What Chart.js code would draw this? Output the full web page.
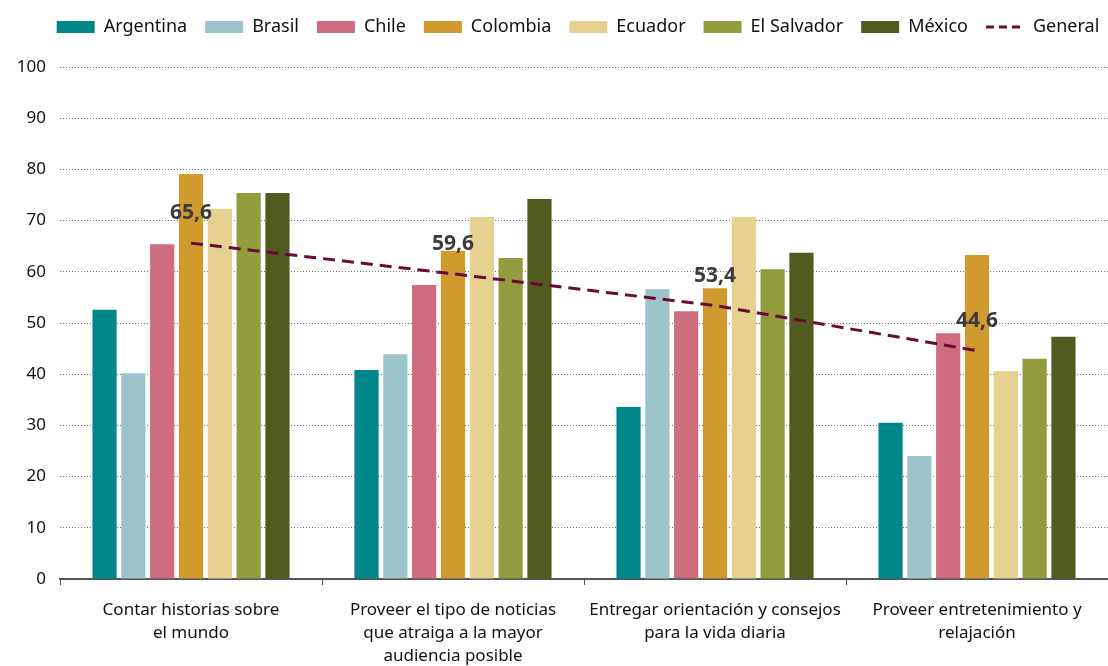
<!DOCTYPE html>
<html>
<head>
<meta charset="utf-8">
<script src="https://cdn.jsdelivr.net/npm/chart.js@4"></script>
<style>
  html, body { margin: 0; padding: 0; background: #fff; }
  #wrap { width: 1108px; height: 666px; }
</style>
</head>
<body>
<div id="wrap"><canvas id="myBarChart"></canvas></div>
<script>
// categories and values
var categories = [
    ["Contar historias sobre", "el mundo"],
    ["Proveer el tipo de noticias", "que atraiga a la mayor", "audiencia posible"],
    ["Entregar orientación y consejos", "para la vida diaria"],
    ["Proveer entretenimiento y", "relajación"]
];

var argentina = [52.6, 40.8, 33.6, 30.5];
var brasil = [40.2, 43.9, 56.6, 24.0];
var chile = [65.4, 57.4, 52.3, 48.0];
var colombia = [79.1, 64.1, 56.8, 63.3];
var ecuador = [72.3, 70.7, 70.7, 40.6];
var elSalvador = [75.4, 62.7, 60.5, 43.0];
var mexico = [75.4, 74.2, 63.7, 47.3];
var general = [65.6, 59.6, 53.4, 44.6];

var yTicks = [0, 10, 20, 30, 40, 50, 60, 70, 80, 90, 100];

const fontFamily = "'Noto Sans', sans-serif";

function bar(label, values, color) {
    return {
        type: 'bar',
        label: label,
        data: values,
        backgroundColor: color,
        borderWidth: 0,
        pointStyle: 'rect',
        order: 1
    };
}

const data = {
    labels: categories,
    datasets: [
        bar('Argentina', argentina, '#00878A'),
        bar('Brasil', brasil, '#9CC5C9'),
        bar('Chile', chile, '#CE6C80'),
        bar('Colombia', colombia, '#D09A2E'),
        bar('Ecuador', ecuador, '#E6D190'),
        bar('El Salvador', elSalvador, '#939B3F'),
        bar('México', mexico, '#525B1F'),
        {
            type: 'line',
            label: 'General',
            data: general,
            borderColor: '#6B0A3A',
            backgroundColor: '#6B0A3A',
            borderWidth: 3,
            borderDash: [12, 7],
            pointRadius: 0,
            pointStyle: 'line',
            fill: false,
            tension: 0,
            order: 0
        }
    ]
};

// draws the "65,6" style labels over the General line
const lineLabels = {
    id: 'lineLabels',
    afterDatasetsDraw(chart) {
        const ctx = chart.ctx;
        const idx = chart.data.datasets.length - 1;
        const meta = chart.getDatasetMeta(idx);
        ctx.save();
        ctx.font = "bold 21px " + fontFamily;
        ctx.fillStyle = '#3C3C3C';
        ctx.textAlign = 'center';
        ctx.textBaseline = 'middle';
        meta.data.forEach(function (pt, i) {
            var txt = general[i].toFixed(1).replace('.', ',');
            ctx.fillText(txt, pt.x, pt.y - 30);
        });
        ctx.restore();
    }
};

// extra room under the legend, and nudge it right like the original
const legendSpace = {
    id: 'legendSpace',
    beforeInit(chart) {
        const orig = chart.legend.fit;
        chart.legend.fit = function () {
            orig.bind(chart.legend)();
            this.height += 21;
        };
    },
    afterLayout(chart) {
        chart.legend.left += 24;
        chart.legend.right += 24;
    }
};

const config = {
    type: 'bar',
    data: data,
    plugins: [lineLabels, legendSpace],
    options: {
        responsive: true,
        maintainAspectRatio: false,
        animation: false,
        layout: { padding: 0 },
        datasets: {
            bar: { categoryPercentage: 0.77, barPercentage: 0.84 }
        },
        plugins: {
            legend: {
                display: true,
                position: 'top',
                labels: {
                    usePointStyle: true,
                    pointStyleWidth: 38,
                    boxHeight: 12,
                    padding: 18,
                    color: '#111',
                    font: { family: fontFamily, size: 18 },
                    generateLabels: function (chart) {
                        var items = Chart.defaults.plugins.legend.labels.generateLabels(chart);
                        items.forEach(function (it) {
                            if (it.pointStyle === 'line') it.lineDash = [8, 5];
                        });
                        return items;
                    },
                    sort: function (a, b) { return a.datasetIndex - b.datasetIndex; }
                }
            },
            tooltip: { enabled: false }
        },
        scales: {
            x: {
                offset: true,
                afterFit: function (s) { s.height = 87; },
                grid: { display: true, drawOnChartArea: false, drawTicks: true, tickLength: 6, color: '#555' },
                border: { display: true, color: '#555', width: 2 },
                ticks: {
                    color: '#111',
                    padding: 13,
                    maxRotation: 0,
                    autoSkip: false,
                    font: { family: fontFamily, size: 17, lineHeight: 1.38 }
                }
            },
            y: {
                min: 0,
                max: 100,
                afterFit: function (s) { s.width = 60; },
                afterBuildTicks: function (s) { s.ticks = yTicks.map(function (v) { return { value: v }; }); },
                grid: {
                    color: '#6E6E6E',
                    lineWidth: 1,
                    drawTicks: false
                },
                border: { display: false, dash: [1, 2] },
                ticks: {
                    color: '#111',
                    padding: 14,
                    font: { family: fontFamily, size: 17 }
                }
            }
        }
    }
};

var ctx = document.getElementById('myBarChart').getContext('2d');
var myBarChart = new Chart(ctx, config);
</script>
</body>
</html>
